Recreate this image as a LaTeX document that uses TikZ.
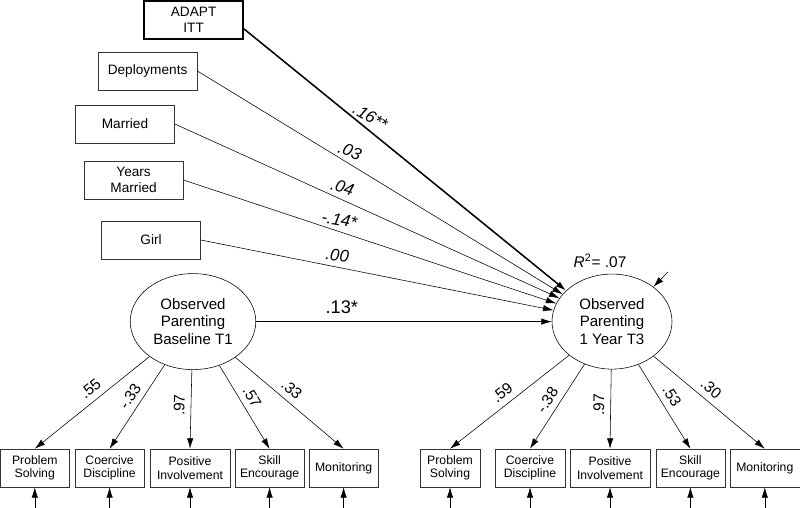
\documentclass[tikz,border=0pt]{standalone}
\usepackage{fontspec}
\setmainfont{Liberation Sans}
\usetikzlibrary{positioning,arrows.meta,shapes.geometric,calc}
\tikzset{
varnode/.style={rectangle, draw=black!80, thin, minimum width=2.475cm, minimum height=0.95cm, align=center, font=\fontsize{9.7}{11}\selectfont},
adaptnode/.style={varnode, draw=black, line width=1.2pt},
indnode/.style={rectangle, draw=black!80, thin, minimum height=0.95cm, inner sep=1pt, align=center, font=\fontsize{8.7}{9.6}\selectfont},
latentnode/.style={ellipse, draw=black, thin, minimum width=3.1cm, minimum height=2.4cm, align=center, font=\fontsize{10.7}{12.4}\selectfont},
>={Latex[width=1.6mm,length=2.6mm]},
coef/.style={font=\fontsize{12}{14}\selectfont\itshape, inner sep=1pt, above=3pt},
load/.style={font=\fontsize{11}{13}\selectfont, sloped, above=1pt}
}
\begin{document}
\begin{tikzpicture}[align=center]
\useasboundingbox (0,0) rectangle (20,12.7);

%Predictors
\node[adaptnode] (adapt) at(4.84,12.2) {ADAPT\\ITT};
\node[varnode] (deploy) at(3.69,10.925) {Deployments};
\node[varnode] (married) at(3.125,9.6) {Married};
\node[varnode] (years) at(3.34,8.2) {Years\\Married};
\node[varnode] (girl) at(3.775,6.7) {Girl};

%Latent variables
\node[latentnode] (base) at(4.825,4.66) {Observed\\Parenting\\Baseline T1};
\node[latentnode, minimum width=3cm, minimum height=2.375cm] (year) at(15.3,4.66) {Observed\\Parenting\\1 Year T3};
\node[font=\fontsize{11}{13}\selectfont] (rsq) at(15.0,6.175) {\textit{R}\textsuperscript{2}= .07};

%Indicators T1
\node[indnode, minimum width=1.72cm] (solveA) at(0.87,1) {Problem\\Solving};
\node[indnode, minimum width=1.72cm] (coerA) at(2.74,1) {Coercive\\Discipline};
\node[indnode, minimum width=2cm] (posA) at(4.75,1) {Positive\\Involvement};
\node[indnode, minimum width=1.72cm] (skillA) at(6.74,1) {Skill\\Encourage};
\node[indnode, minimum width=1.72cm] (monA) at(8.59,1) {Monitoring};

%Indicators T3
\node[indnode, minimum width=1.5cm] (solveB) at(11.25,1) {Problem\\Solving};
\node[indnode, minimum width=1.75cm] (coerB) at(13.25,1) {Coercive\\Discipline};
\node[indnode, minimum width=2cm] (posB) at(15.25,1) {Positive\\Involvement};
\node[indnode, minimum width=1.72cm] (skillB) at(17.26,1) {Skill\\Encourage};
\node[indnode, minimum width=1.75cm] (monB) at(19.12,1) {Monitoring};

%Error terms
\coordinate (distY) at(16.7,5.9);
\coordinate (errA1) at(solveA |- 0,0);
\coordinate (errA2) at(coerA |- 0,0);
\coordinate (errA3) at(posA |- 0,0);
\coordinate (errA4) at(skillA |- 0,0);
\coordinate (errA5) at(monA |- 0,0);
\coordinate (errB1) at(solveB |- 0,0);
\coordinate (errB2) at(coerB |- 0,0);
\coordinate (errB3) at(posB |- 0,0);
\coordinate (errB4) at(skillB |- 0,0);
\coordinate (errB5) at(monB |- 0,0);

%Regression paths
\draw[->, line width=1.1pt] (adapt.-10) -- node[coef, pos=.38, rotate=-30] {.16**} (year.146);
\draw[->] (deploy.east) -- node[coef, pos=.41, rotate=-22] {.03} (year.151);
\draw[->] (married.east) -- node[coef, pos=.43, rotate=-17] {.04} (year.156);
\draw[->] (years.east) -- node[coef, pos=.415, rotate=-10] {-.14*} (year.162);
\draw[->] (girl.east) -- node[coef, pos=.385, rotate=-5] {.00} (year.169);
\draw[->] (base.east) -- node[above=2pt, pos=.29, font=\fontsize{13}{15}\selectfont] {.13*} (year.west);
\draw[->] (distY) -- (year.40);

%Loadings T1
\draw[->] (base) -- node[load, pos=.45] {.55} (solveA.north);
\draw[->] (base) -- node[load, pos=.45] {-.33} (coerA.north);
\draw[->] (base) -- node[load, pos=.45] {.97} (posA.north);
\draw[->] (base) -- node[load, pos=.45] {.57} (skillA.north);
\draw[->] (base) -- node[load, pos=.45] {.33} (monA.north);

%Loadings T3
\draw[->] (year) -- node[load, pos=.5] {.59} (solveB.north);
\draw[->] (year) -- node[load, pos=.5] {-.38} (coerB.north);
\draw[->] (year) -- node[load, pos=.45] {.97} (posB.north);
\draw[->] (year) -- node[load, pos=.45] {.53} (skillB.north);
\draw[->] (year) -- node[load, pos=.45] {.30} (monB.north);

%Indicator errors
\draw[->] (errA1) -- (solveA);
\draw[->] (errA2) -- (coerA);
\draw[->] (errA3) -- (posA);
\draw[->] (errA4) -- (skillA);
\draw[->] (errA5) -- (monA);
\draw[->] (errB1) -- (solveB);
\draw[->] (errB2) -- (coerB);
\draw[->] (errB3) -- (posB);
\draw[->] (errB4) -- (skillB);
\draw[->] (errB5) -- (monB);
\end{tikzpicture}
\end{document}
